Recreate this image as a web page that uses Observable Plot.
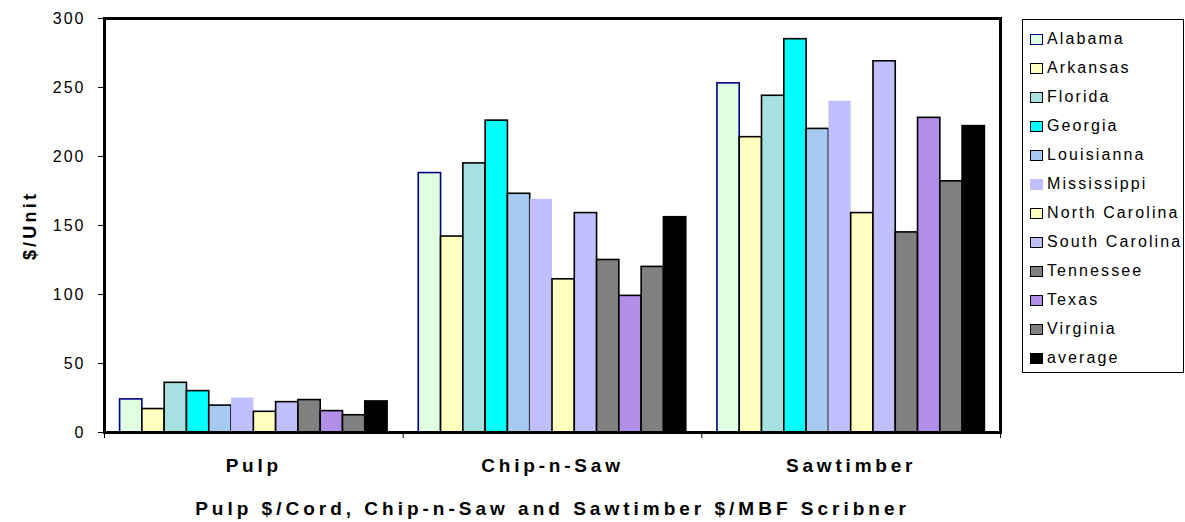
<!DOCTYPE html>
<html><head><meta charset="utf-8">
<script src="https://cdn.jsdelivr.net/npm/d3@7"></script>
<script src="https://cdn.jsdelivr.net/npm/@observablehq/plot@0.6"></script>
<style>
body{margin:0;background:#fff;font-family:"Liberation Sans",Arial,sans-serif;}
#wrap{position:relative;width:1185px;height:522px;overflow:hidden;}
#legend{position:absolute;left:1022px;top:19px;width:162px;height:354px;border:1px solid #000;box-sizing:border-box;padding-top:4.5px;background:#fff;}
.li{display:flex;align-items:center;height:29px;}
.sw{width:11px;height:9px;margin-left:7px;margin-right:4px;box-sizing:content-box;}
.lt{font-size:16px;letter-spacing:2.1px;color:#000;white-space:nowrap;}
svg text{font-family:"Liberation Sans",Arial,sans-serif;}
</style></head><body>
<div id="wrap"><div id="chart"></div><div id="legend"></div></div>
<script>
const categories = ["Pulp", "Chip-n-Saw", "Sawtimber"];
const states = ["Alabama","Arkansas","Florida","Georgia","Louisianna","Mississippi","North Carolina","South Carolina","Tennessee","Texas","Virginia","average"];
const pulp      = [24, 17, 36, 30, 19.5, 25, 15, 22, 23.5, 15.5, 12.5, 22.5];
const chipNSaw  = [188, 142, 195, 226, 173, 169, 111, 159, 125, 99, 120, 156];
const sawtimber = [253, 214, 244, 285, 220, 240, 159, 269, 145, 228, 182, 222];
const fills   = ["#E0FFE0","#FFFFC0","#A6E0E0","#00FFFF","#A6CAF0","#C0C0FF","#FFFFC0","#C0C0FF","#808080","#B18FE9","#808080","#000000"];
const strokes = ["#000080","#000","#000","#000","#000","none","#000","#000","#000","#000","#000","#000"];
const yTicks = [0, 50, 100, 150, 200, 250, 300];

const series = [pulp, chipNSaw, sawtimber];
const gap = 1.4; // cluster gap in bar widths
const slots = states.length + gap;
const data = [];
categories.forEach((c, i) => {
  states.forEach((s, j) => {
    data.push({cat: c, state: s, value: series[i][j], fill: fills[j], stroke: strokes[j],
      x1: i + (gap / 2 + j) / slots, x2: i + (gap / 2 + j + 1) / slots});
  });
});
const bounds = categories.map((c, i) => i).concat([categories.length]);
const centers = categories.map((c, i) => i + 0.5);

const chart = Plot.plot({
  width: 1185, height: 522,
  marginLeft: 104, marginRight: 185, marginTop: 18, marginBottom: 90,
  style: {fontFamily: "Liberation Sans, Arial, sans-serif", color: "#000", background: "#fff"},
  x: {type: "linear", domain: [0, categories.length]},
  y: {domain: [0, 300]},
  marks: [
    Plot.rectY(data, {x1: "x1", x2: "x2", y1: 0, y2: "value", fill: "fill", stroke: "stroke", strokeWidth: 1.6}),
    Plot.frame({stroke: "#000", strokeWidth: 3}),
    Plot.axisY({ticks: yTicks, tickSize: 6, tickPadding: 13, fontSize: 16, tickFormat: d => String(d),
      label: "$/Unit", labelAnchor: "center", labelArrow: "none", labelOffset: 81}),
    Plot.axisX({ticks: bounds, tickSize: 6, tickFormat: () => "", label: null}),
    Plot.axisX({ticks: centers, tickSize: 0, tickPadding: 26, fontSize: 19, fontWeight: "bold",
      tickFormat: d => categories[Math.floor(d)],
      label: "Pulp $/Cord, Chip-n-Saw and Sawtimber $/MBF Scribner", labelAnchor: "center", labelArrow: "none", labelOffset: 82})
  ]
});
document.getElementById("chart").appendChild(chart);

// style labels
chart.querySelectorAll('[aria-label="y-axis label"] text').forEach(t => {
  t.setAttribute("font-weight", "bold"); t.setAttribute("font-size", "18"); t.setAttribute("letter-spacing", "3.2");
});
chart.querySelectorAll('[aria-label="x-axis label"] text').forEach(t => {
  t.setAttribute("font-weight", "bold"); t.setAttribute("font-size", "19"); t.setAttribute("letter-spacing", "4");
});
chart.querySelectorAll('[aria-label="x-axis tick label"] text').forEach(t => t.setAttribute("letter-spacing", "3.8"));
chart.querySelectorAll('[aria-label="y-axis tick label"] text').forEach(t => t.setAttribute("letter-spacing", "2"));

const legend = document.getElementById("legend");
states.forEach((s, j) => {
  const row = document.createElement("div"); row.className = "li";
  const sw = document.createElement("div"); sw.className = "sw";
  sw.style.background = fills[j];
  sw.style.border = strokes[j] === "none" ? "1.5px solid " + fills[j] : "1.5px solid " + strokes[j];
  const t = document.createElement("span"); t.className = "lt"; t.textContent = s;
  row.appendChild(sw); row.appendChild(t); legend.appendChild(row);
});
</script>
</body></html>
